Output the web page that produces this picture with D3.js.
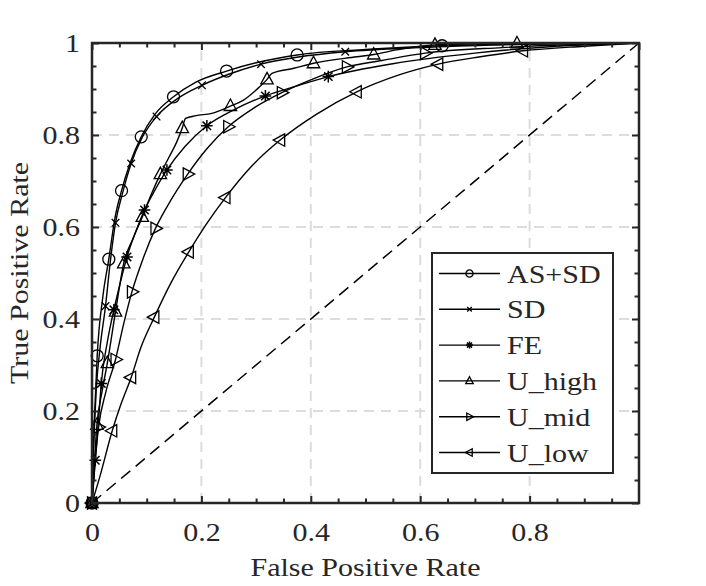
<!DOCTYPE html>
<html>
<head>
<meta charset="utf-8">
<script src="https://cdn.jsdelivr.net/npm/d3@7"></script>
<style>
  body { margin: 0; background: #fff; }
  text { font-family: "Liberation Serif", serif; fill: #262626; }
</style>
</head>
<body>
<div id="vis"></div>
<script>
// ROC curves, values
const seriesNames = ['AS+SD', 'SD', 'FE', 'U_high', 'U_mid', 'U_low']
const seriesMarkers = ['circle', 'x', 'star', 'up', 'right', 'left']

const fprAsSd = [0, 0.002, 0.005, 0.0095, 0.02, 0.0307, 0.042, 0.054, 0.07, 0.09, 0.115, 0.149, 0.19, 0.246, 0.3, 0.375, 0.5, 0.64, 0.8, 1]
const tprAsSd = [0, 0.1, 0.2, 0.32, 0.45, 0.53, 0.62, 0.679, 0.74, 0.796, 0.845, 0.883, 0.915, 0.939, 0.957, 0.974, 0.986, 0.994, 0.998, 1]
const markAsSd = [0, 3, 5, 7, 9, 11, 13, 15, 17]

const fprSd = [0, 0.003, 0.008, 0.015, 0.0247, 0.033, 0.043, 0.055, 0.0716, 0.092, 0.118, 0.155, 0.201, 0.25, 0.309, 0.38, 0.463, 0.6, 0.75, 1]
const tprSd = [0, 0.12, 0.25, 0.34, 0.428, 0.52, 0.609, 0.67, 0.738, 0.795, 0.84, 0.878, 0.908, 0.932, 0.954, 0.97, 0.981, 0.99, 0.996, 1]
const markSd = [0, 4, 6, 8, 10, 12, 14, 16]

const fprFe = [0, 0.006, 0.012, 0.017, 0.028, 0.04, 0.052, 0.064, 0.08, 0.096, 0.115, 0.137, 0.17, 0.21, 0.26, 0.317, 0.37, 0.432, 0.55, 0.7, 0.85, 1]
const tprFe = [0, 0.093, 0.18, 0.26, 0.35, 0.42, 0.48, 0.535, 0.59, 0.637, 0.68, 0.724, 0.775, 0.82, 0.855, 0.885, 0.905, 0.927, 0.955, 0.978, 0.993, 1]
const markFe = [0, 1, 3, 5, 7, 9, 11, 13, 15, 17]

const fprHigh = [0, 0.004, 0.009, 0.018, 0.028, 0.043, 0.058, 0.075, 0.092, 0.108, 0.125, 0.14, 0.155, 0.165, 0.171, 0.19, 0.219, 0.253, 0.277, 0.302, 0.32, 0.329, 0.369, 0.405, 0.484, 0.515, 0.557, 0.627, 0.7, 0.777, 0.9, 1]
const tprHigh = [0, 0.08, 0.17, 0.24, 0.304, 0.416, 0.521, 0.575, 0.622, 0.67, 0.715, 0.75, 0.785, 0.815, 0.836, 0.842, 0.847, 0.863, 0.876, 0.9, 0.921, 0.934, 0.945, 0.956, 0.97, 0.975, 0.985, 0.996, 0.998, 0.999, 1, 1]
const markHigh = [0, 2, 4, 5, 6, 8, 10, 13, 17, 20, 23, 25, 27, 29]

const fprMid = [0, 0.005, 0.012, 0.025, 0.043, 0.058, 0.073, 0.093, 0.116, 0.145, 0.175, 0.21, 0.249, 0.295, 0.347, 0.4, 0.466, 0.53, 0.609, 0.75, 1]
const tprMid = [0, 0.08, 0.165, 0.24, 0.312, 0.39, 0.459, 0.53, 0.597, 0.66, 0.715, 0.77, 0.818, 0.858, 0.892, 0.92, 0.948, 0.962, 0.978, 0.99, 1]
const markMid = [0, 2, 4, 6, 8, 10, 12, 14, 16, 18]

const fprLow = [0, 0.015, 0.037, 0.053, 0.0716, 0.09, 0.114, 0.145, 0.177, 0.21, 0.244, 0.29, 0.344, 0.41, 0.484, 0.56, 0.633, 0.71, 0.788, 0.9, 1]
const tprLow = [0, 0.06, 0.157, 0.215, 0.273, 0.34, 0.404, 0.48, 0.546, 0.608, 0.664, 0.73, 0.789, 0.845, 0.894, 0.93, 0.954, 0.97, 0.983, 0.993, 1]
const markLow = [0, 2, 4, 6, 8, 10, 12, 14, 16, 18]

const xTicks = [0, 0.2, 0.4, 0.6, 0.8]
const yTicks = [0, 0.2, 0.4, 0.6, 0.8, 1]
const gridTicks = [0.2, 0.4, 0.6, 0.8]

const series = [
  [fprAsSd, tprAsSd, markAsSd],
  [fprSd, tprSd, markSd],
  [fprFe, tprFe, markFe],
  [fprHigh, tprHigh, markHigh],
  [fprMid, tprMid, markMid],
  [fprLow, tprLow, markLow]
]

const W = 706, H = 586
const ink = '#262626'
const stretch = 1.2 // widen the serif a bit, the original font is broader

const x = d3.scaleLinear().domain([0, 1]).range([92, 639])
const y = d3.scaleLinear().domain([0, 1]).range([503, 43])

const svg = d3.select('#vis').append('svg').attr('width', W).attr('height', H)

// grid
const grid = svg.append('g').attr('stroke', '#dcdcdc').attr('stroke-width', 2).attr('stroke-dasharray', '10,7')
grid.selectAll('.gx').data(gridTicks).enter().append('line')
  .attr('x1', (d) => x(d)).attr('x2', (d) => x(d)).attr('y1', y(0)).attr('y2', y(1))
grid.selectAll('.gy').data(gridTicks).enter().append('line')
  .attr('y1', (d) => y(d)).attr('y2', (d) => y(d)).attr('x1', x(0)).attr('x2', x(1))

// chance line
svg.append('line')
  .attr('x1', x(0)).attr('y1', y(0)).attr('x2', x(1)).attr('y2', y(1))
  .attr('stroke', '#000').attr('stroke-width', 1.5).attr('stroke-dasharray', '12,7')

function drawMarker(g, type, s) {
  const st = (sel) => sel.attr('fill', 'none').attr('stroke', '#000').attr('stroke-width', 1.3)
  if (type === 'circle') {
    st(g.append('circle').attr('r', 6 * s))
  } else if (type === 'x') {
    const a = 3.8 * s
    st(g.append('path').attr('d', `M${-a},${-a}L${a},${a}M${-a},${a}L${a},${-a}`))
  } else if (type === 'star') {
    const a = 5.8 * s, b = 4.2 * s
    st(g.append('path').attr('d', `M0,${-a}V${a}M${-a},0H${a}M${-b},${-b}L${b},${b}M${-b},${b}L${b},${-b}`))
      .attr('stroke-width', 1.5)
  } else if (type === 'up') {
    st(g.append('path').attr('d', `M0,${-7 * s}L${6.2 * s},${4.5 * s}L${-6.2 * s},${4.5 * s}Z`))
  } else if (type === 'right') {
    st(g.append('path').attr('d', `M${7 * s},0L${-4.5 * s},${-6.2 * s}L${-4.5 * s},${6.2 * s}Z`))
  } else if (type === 'left') {
    st(g.append('path').attr('d', `M${-7 * s},0L${4.5 * s},${-6.2 * s}L${4.5 * s},${6.2 * s}Z`))
  }
}

// curves
const line = d3.line().x((d) => x(d[0])).y((d) => y(d[1])).curve(d3.curveMonotoneX)
const plot = svg.append('g')
series.forEach((s, i) => {
  const pts = s[0].map((f, j) => [f, s[1][j]])
  plot.append('path').datum(pts).attr('d', line)
    .attr('fill', 'none').attr('stroke', '#000').attr('stroke-width', 1.4)
  s[2].forEach((k) => {
    const g = plot.append('g').attr('transform', `translate(${x(pts[k][0])},${y(pts[k][1])})`)
    drawMarker(g, seriesMarkers[i], 1)
  })
})

// axes, ticks point inward on all four sides
function styleAxis(g) {
  g.select('.domain').remove()
  g.selectAll('.tick line').attr('stroke', ink).attr('stroke-width', 2)
  g.selectAll('text').attr('font-size', 25).attr('fill', ink)
    .attr('font-family', '"Liberation Serif", serif')
}
const minor = d3.range(1, 20).map((i) => i * 0.05).filter((v) => Math.abs(v * 5 - Math.round(v * 5)) > 1e-6)

const bottom = svg.append('g').attr('transform', `translate(0,${y(0)})`)
  .call(d3.axisBottom(x).tickValues(xTicks).tickSize(-7).tickPadding(20).tickFormat(d3.format('')))
styleAxis(bottom)
bottom.selectAll('text').attr('transform', `scale(${stretch},1)`)

const left = svg.append('g').attr('transform', `translate(${x(0)},0)`)
  .call(d3.axisLeft(y).tickValues(yTicks).tickSize(-7).tickPadding(10).tickFormat(d3.format('')))
styleAxis(left)
left.selectAll('text').attr('transform', `scale(${stretch},1)`)

const topAx = svg.append('g').attr('transform', `translate(0,${y(1)})`)
  .call(d3.axisTop(x).tickValues(xTicks.concat([1])).tickSize(-7).tickFormat(''))
styleAxis(topAx)
const rightAx = svg.append('g').attr('transform', `translate(${x(1)},0)`)
  .call(d3.axisRight(y).tickValues(yTicks).tickSize(-7).tickFormat(''))
styleAxis(rightAx)

const minorAxes = [
  [d3.axisBottom(x), `translate(0,${y(0)})`],
  [d3.axisTop(x), `translate(0,${y(1)})`],
  [d3.axisLeft(y), `translate(${x(0)},0)`],
  [d3.axisRight(y), `translate(${x(1)},0)`]
]
minorAxes.forEach(([ax, tr]) => {
  const g = svg.append('g').attr('transform', tr)
    .call(ax.tickValues(minor).tickSize(-4.5).tickFormat(''))
  styleAxis(g)
})

// frame
svg.append('rect')
  .attr('x', x(0)).attr('y', y(1)).attr('width', x(1) - x(0)).attr('height', y(0) - y(1))
  .attr('fill', 'none').attr('stroke', ink).attr('stroke-width', 2.5)

// axis labels
svg.append('text')
  .attr('transform', `translate(${(x(0) + x(1)) / 2},576) scale(${stretch},1)`)
  .attr('text-anchor', 'middle').attr('font-size', 25).text('False Positive Rate')
svg.append('text')
  .attr('transform', `translate(28,${(y(0) + y(1)) / 2}) rotate(-90) scale(${stretch},1)`)
  .attr('text-anchor', 'middle').attr('font-size', 25).text('True Positive Rate')

// legend
const legend = svg.append('g').attr('transform', 'translate(432,253)')
legend.append('rect').attr('width', 181).attr('height', 220)
  .attr('fill', '#fff').attr('stroke', ink).attr('stroke-width', 2)
seriesNames.forEach((name, i) => {
  const ly = 20.5 + i * 35.8
  const row = legend.append('g').attr('transform', `translate(0,${ly})`)
  row.append('line').attr('x1', 7).attr('x2', 68).attr('stroke', '#000').attr('stroke-width', 1.4)
  const mg = row.append('g').attr('transform', 'translate(37.5,0)')
  drawMarker(mg, seriesMarkers[i], 0.6)
  row.append('text').attr('transform', `translate(75,9) scale(${stretch},1)`)
    .attr('font-size', 25).text(name)
})
</script>
</body>
</html>
